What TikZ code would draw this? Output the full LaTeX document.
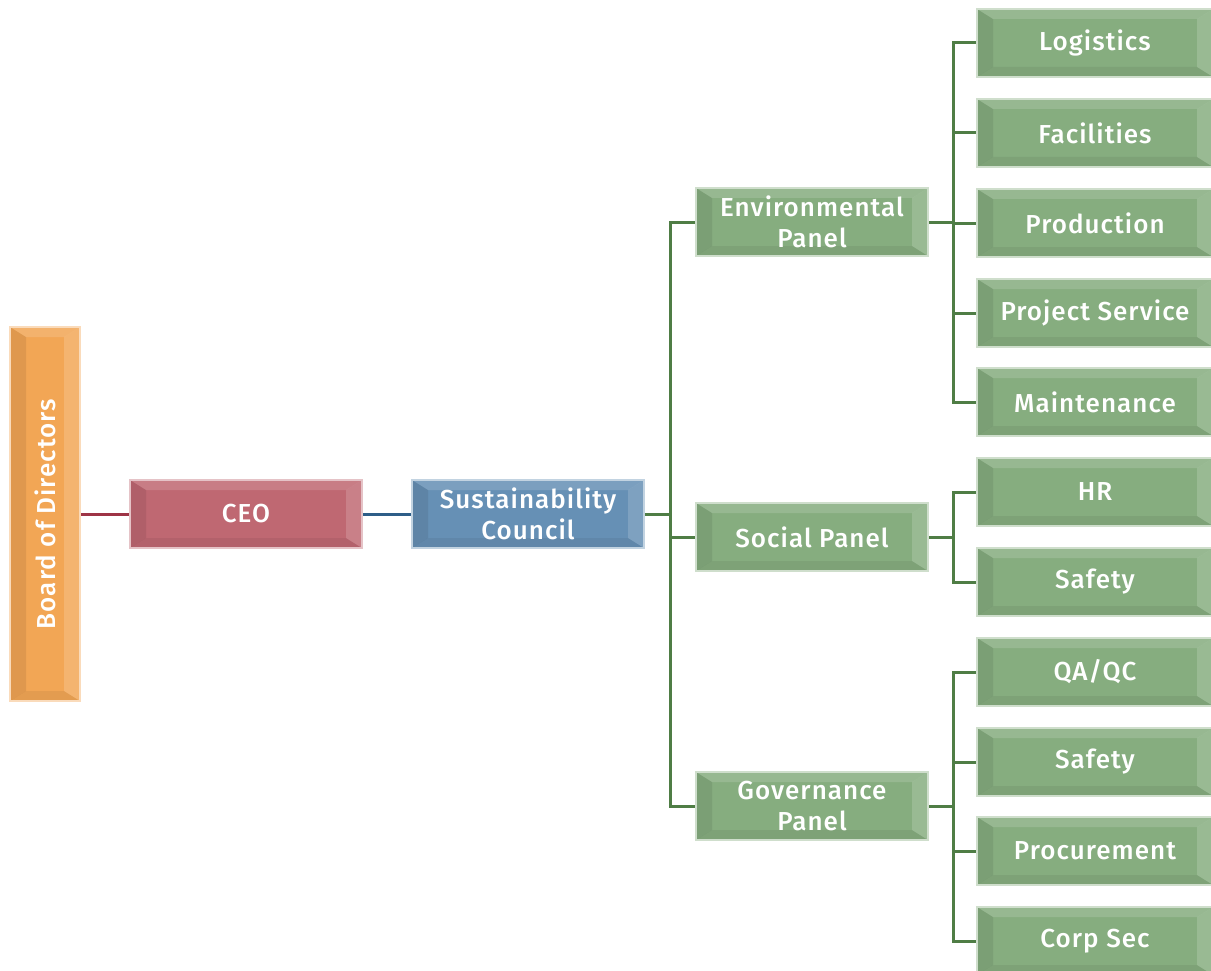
\documentclass[tikz,border=0pt]{standalone}
\usepackage{fontspec}
\setmainfont{Fira Sans}[UprightFont=* Medium, LetterSpace=4]
\usepackage{xcolor}
\usepackage{tikz}
\usetikzlibrary{positioning}
\definecolor{boardc}{HTML}{F2A655}
\definecolor{ceoc}{HTML}{BF6872}
\definecolor{councilc}{HTML}{6690B5}
\definecolor{panelc}{HTML}{86AD7F}
\definecolor{redline}{HTML}{9E3446}
\definecolor{blueline}{HTML}{2E5E88}
\definecolor{greenline}{HTML}{4F7D45}
\newcommand{\bevelfaces}{
  \fill[white,opacity=.14] (path picture bounding box.north west) -- (path picture bounding box.north east)
    -- ([xshift=-16pt,yshift=-10pt]path picture bounding box.north east) -- ([xshift=16pt,yshift=-10pt]path picture bounding box.north west) -- cycle;
  \fill[white,opacity=.16] (path picture bounding box.north east) -- (path picture bounding box.south east)
    -- ([xshift=-16pt,yshift=10pt]path picture bounding box.south east) -- ([xshift=-16pt,yshift=-10pt]path picture bounding box.north east) -- cycle;
  \fill[black,opacity=.06] (path picture bounding box.south west) -- (path picture bounding box.south east)
    -- ([xshift=-16pt,yshift=10pt]path picture bounding box.south east) -- ([xshift=16pt,yshift=10pt]path picture bounding box.south west) -- cycle;
  \fill[black,opacity=.08] (path picture bounding box.north west) -- (path picture bounding box.south west)
    -- ([xshift=16pt,yshift=10pt]path picture bounding box.south west) -- ([xshift=16pt,yshift=-10pt]path picture bounding box.north west) -- cycle;
}

\begin{document}
\begin{tikzpicture}[
  x=1pt, y=-1pt,
  box/.style={draw=#1!40!white, line width=2.5pt, fill=#1, text=white, inner sep=2pt,
    align=center, font=\fontsize{26}{31}\selectfont, path picture={\bevelfaces}},
  unit/.style={box=panelc, minimum width=232, minimum height=68},
  task/.style={box=panelc, minimum width=236, minimum height=68},
  link/.style={line width=3pt}
]
\useasboundingbox (0,0) rectangle (1211,971);

\node[box=boardc, minimum width=70, minimum height=374] (board) at (45,514) {};
\node[rotate=90, text=white, font=\fontsize{26}{31}\selectfont] (boardtxt) at (board.center) {Board of Directors};
\node[box=ceoc, minimum width=232, minimum height=68] (ceo) at (246,514) {CEO};
\node[box=councilc, minimum width=232, minimum height=68] (council) at (528,514) {Sustainability\\Council};

\node[unit] (env) at (812,222) {Environmental\\Panel};
\node[unit] (soc) at (812,537) {Social Panel};
\node[unit] (gov) at (812,806) {Governance\\Panel};

\node[task] (logi) at (1095,43) {Logistics};
\node[task] (faci) at (1095,133) {Facilities};
\node[task] (prod) at (1095,223) {Production};
\node[task] (proj) at (1095,313) {Project Service};
\node[task] (main) at (1095,402) {Maintenance};
\node[task] (hr) at (1095,492) {HR};
\node[task] (safe) at (1095,582) {Safety};
\node[task] (qaqc) at (1095,672) {QA/QC};
\node[task] (gsafe) at (1095,762) {Safety};
\node[task] (proc) at (1095,851) {Procurement};
\node[task] (corp) at (1095,941) {Corp Sec};

\coordinate (cbus) at (670,514);
\coordinate (ebus) at (953,222);
\coordinate (sbus) at (953,537);
\coordinate (gbus) at (953,806);

\draw[link,redline] (board.east) -- (ceo.west);
\draw[link,blueline] (ceo.east) -- (council.west);

\draw[link,greenline] (council.east) -- (cbus);
\draw[link,greenline] (env.west) -| (cbus);
\draw[link,greenline] (gov.west) -| (cbus);
\draw[link,greenline] (soc.west) -- (soc.west -| cbus);

\draw[link,greenline] (env.east) -- (ebus);
\foreach \t in {logi,faci,prod,proj,main}
  \draw[link,greenline] (ebus) |- (\t.west);
\draw[link,greenline] (soc.east) -- (sbus);
\foreach \t in {hr,safe}
  \draw[link,greenline] (sbus) |- (\t.west);
\draw[link,greenline] (gov.east) -- (gbus);
\foreach \t in {qaqc,gsafe,proc,corp}
  \draw[link,greenline] (gbus) |- (\t.west);

\end{tikzpicture}
\end{document}
